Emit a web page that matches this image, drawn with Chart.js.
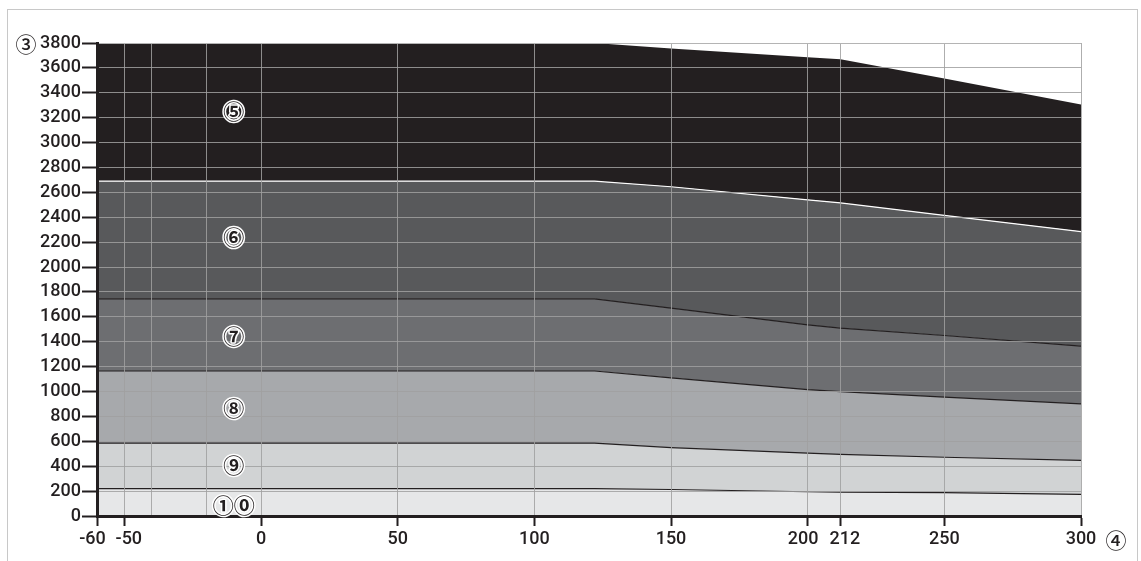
<!DOCTYPE html>
<html>
<head>
<meta charset="utf-8">
<script src="https://cdn.jsdelivr.net/npm/chart.js@4"></script>
<style>
  html, body { margin: 0; padding: 0; background: #fff; }
  #wrap { position: relative; width: 1141px; height: 561px; }
  #frame { position: absolute; left: 7px; top: 9px; width: 1129px; height: 560px;
           border: 1px solid #c8c8c8; border-bottom: none; }
  canvas { position: absolute; left: 0; top: 0; }
</style>
</head>
<body>
<div id="wrap">
  <div id="frame"></div>
  <canvas id="chart" width="1141" height="561"></canvas>
</div>
<script>
// x positions where the boundary lines bend
const xPoints = [-60, 122, 150, 200, 212, 250, 300];

// upper boundary of each zone
const zone10 = [220, 220, 213, 195, 192, 187, 173];
const zone9  = [585, 585, 550, 505, 495, 472, 447];
const zone8  = [1165, 1165, 1110, 1015, 1000, 955, 900];
const zone7  = [1745, 1745, 1670, 1535, 1510, 1450, 1365];
const zone6  = [2690, 2690, 2645, 2540, 2515, 2415, 2285];
const zone5  = [3800, 3800, 3755, 3685, 3670, 3515, 3305];

const xTicks = [-60, -50, -40, -20, 0, 50, 100, 150, 200, 212, 250, 300];
const xHidden = [-40, -20];
const yMax = 3800;
const yStep = 200;

// zone labels: [text, x, y]
const zoneLabels = [
    ["⑤", -10, 3250],
    ["⑥", -10, 2240],
    ["⑦", -10, 1445],
    ["⑧", -10, 870],
    ["⑨", -10, 410],
    ["①⓪", -10, 90]
];

const toPts = arr => arr.map((y, i) => ({ x: xPoints[i], y: y }));
const ink = "#231f20";
const font = "Roboto";
const circleFont = "'Noto Sans CJK JP', 'DejaVu Sans'";
const gridGray = "rgba(160,160,160,0.85)";

function zone(data, fillColor, lineColor, fill) {
    return {
        data: toPts(data),
        backgroundColor: fillColor,
        borderColor: lineColor,
        borderWidth: lineColor ? 1.2 : 0,
        pointRadius: 0,
        tension: 0,
        fill: fill
    };
}

const labelPlugin = {
    id: "zoneLabels",
    afterDraw(chart) {
        const c = chart.ctx;
        const xs = chart.scales.x;
        const ys = chart.scales.y;
        c.save();
        c.font = "bold 21px " + circleFont;
        c.textAlign = "center";
        c.textBaseline = "middle";
        c.lineJoin = "round";
        zoneLabels.forEach(([t, x, y]) => {
            const px = xs.getPixelForValue(x);
            const py = ys.getPixelForValue(y);
            c.strokeStyle = "#fff";
            c.lineWidth = 3;
            c.strokeText(t, px, py);
            c.fillStyle = ink;
            c.fillText(t, px, py);
        });
        // axis markers
        c.font = "500 21px " + circleFont;
        c.fillStyle = ink;
        c.fillText("③", 26, ys.getPixelForValue(yMax) + 1);
        c.fillText("④", 1116, xs.top + 24);
        c.restore();
    }
};

new Chart(document.getElementById("chart").getContext("2d"), {
    type: "line",
    data: {
        datasets: [
            zone(zone10, "#e6e7e8", ink, "origin"),
            zone(zone9, "#d1d3d4", ink, "-1"),
            zone(zone8, "#a7a9ac", ink, "-1"),
            zone(zone7, "#6d6e71", ink, "-1"),
            zone(zone6, "#58595b", "#ffffff", "-1"),
            zone(zone5, "#231f20", null, "-1")
        ]
    },
    options: {
        responsive: false,
        animation: false,
        layout: { padding: { left: 0, top: 43, right: 60, bottom: 0 } },
        plugins: {
            legend: { display: false },
            tooltip: { enabled: false }
        },
        scales: {
            x: {
                type: "linear",
                min: -60,
                max: 300,
                afterBuildTicks: s => { s.ticks = xTicks.map(v => ({ value: v })); },
                afterFit: s => { s.height = 45; },
                border: { color: ink, width: 3, z: 2 },
                grid: {
                    z: 1,
                    color: c => (c.tick && c.tick.value === -60) ? "transparent" : gridGray,
                    lineWidth: 1,
                    tickLength: 10,
                    tickWidth: 2,
                    tickColor: c => (c.tick && xHidden.includes(c.tick.value)) ? "transparent" : ink
                },
                ticks: {
                    z: 2,
                    autoSkip: false,
                    maxRotation: 0,
                    padding: 3,
                    color: ink,
                    font: { family: font, size: 18, weight: "500" },
                    callback: v => {
                        if (xHidden.includes(v)) return "";
                        if (v === -60) return "-60  ";
                        if (v === -50) return "  -50";
                        if (v === 200) return "200  ";
                        if (v === 212) return "  212";
                        return String(v);
                    }
                }
            },
            y: {
                min: 0,
                max: yMax,
                border: { color: ink, width: 3, z: 2 },
                grid: {
                    z: 1,
                    color: c => {
                        const v = c.tick && c.tick.value;
                        if (v === 0) return "transparent";
                        if (v === yMax) return "#b4b4b4";
                        return gridGray;
                    },
                    lineWidth: 1,
                    tickLength: 15,
                    tickWidth: 2,
                    tickColor: ink
                },
                afterFit: s => { s.width = 97; },
                ticks: {
                    z: 2,
                    stepSize: yStep,
                    padding: 1,
                    color: ink,
                    font: { family: font, size: 18, weight: "500" },
                    callback: v => String(v)
                }
            }
        }
    },
    plugins: [labelPlugin]
});
</script>
</body>
</html>
